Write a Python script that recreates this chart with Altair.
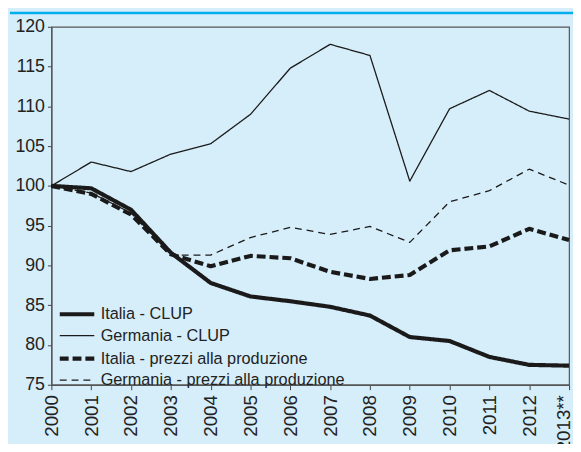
import altair as alt
import pandas as pd

years = ["2000", "2001", "2002", "2003", "2004", "2005", "2006",
         "2007", "2008", "2009", "2010", "2011", "2012", "2013**"]
series = ["Italia - CLUP", "Germania - CLUP",
          "Italia - prezzi alla produzione", "Germania - prezzi alla produzione"]

italia_clup = [100, 99.7, 97.0, 91.6, 87.8, 86.1, 85.5, 84.8, 83.7, 81.0, 80.5, 78.5, 77.5, 77.4]
germania_clup = [100, 103.0, 101.8, 104.0, 105.3, 109.0, 114.8, 117.8, 116.4, 100.6, 109.7, 112.0, 109.4, 108.4]
italia_prezzi = [100, 99.0, 96.4, 91.4, 89.9, 91.2, 90.9, 89.2, 88.3, 88.8, 91.9, 92.4, 94.6, 93.2]
germania_prezzi = [100, 99.1, 96.6, 91.3, 91.3, 93.5, 94.8, 93.9, 94.9, 92.9, 98.0, 99.4, 102.1, 100.1]

values = [italia_clup, germania_clup, italia_prezzi, germania_prezzi]
rows = []
for name, vals in zip(series, values):
    for yr, v in zip(years, vals):
        rows.append({"anno": yr, "valore": v, "serie": name})
df = pd.DataFrame(rows)

FONT = "Liberation Sans"
INK = "#1a1a1a"

x_enc = alt.X("anno:O", sort=years,
              scale=alt.Scale(type="point", padding=0),
              axis=alt.Axis(title=None, labelAngle=270, labelFontSize=19,
                            labelPadding=5, tickSize=5,
                            labelOffset={"condition": {"test": "datum.value == '2013**'",
                                                       "value": -6},
                                         "value": 0}))
y_enc = alt.Y("valore:Q", scale=alt.Scale(domain=[75, 120], nice=False, zero=False),
              axis=alt.Axis(title=None, values=list(range(75, 121, 5)),
                            labelFontSize=18, tickSize=4, labelPadding=3))
dash_enc = alt.StrokeDash("serie:N",
                          scale=alt.Scale(type="ordinal", domain=series,
                                          range=[[1, 0], [1, 0], [9, 4], [7, 5]]),
                          legend=alt.Legend(title=None))
width_enc = alt.StrokeWidth("serie:N",
                            scale=alt.Scale(type="ordinal", domain=series,
                                            range=[4.2, 1.3, 4.2, 1.3]),
                            legend=alt.Legend(title=None))

lines = alt.Chart(df).mark_line(color=INK, strokeJoin="round").encode(
    x=x_enc, y=y_enc, strokeDash=dash_enc, strokeWidth=width_enc,
    order=alt.Order("serie:N")
)

top_line = alt.Chart(pd.DataFrame({"k": [0]})).mark_rule(
    color="#00aeef", strokeWidth=2.5
).encode(x=alt.value(-42), x2=alt.value(529), y=alt.value(-14))

chart = alt.layer(top_line, lines).properties(
    width=525, height=363,
    autosize=alt.AutoSizeParams(type="none"),
    padding={"left": 44, "top": 16, "right": 4, "bottom": 57},
    background="#d6eefa",
).configure_view(
    stroke="#555555", strokeWidth=1.2
).configure_axis(
    grid=False, domainColor="#555555", domainWidth=1.3, tickColor="#444444",
    labelColor="#222222", labelFont=FONT
).configure_legend(
    orient="none", legendX=16.5, legendY=282,
    symbolType="M-2.5,0H2.5", symbolSize=196,
    symbolStrokeColor=INK, labelFont=FONT, labelFontSize=16.5, labelColor="#222222",
    rowPadding=5, labelOffset=14.5, padding=0, labelLimit=0
)

chart.save("out.html", embed_options={"renderer": "svg", "actions": False})
